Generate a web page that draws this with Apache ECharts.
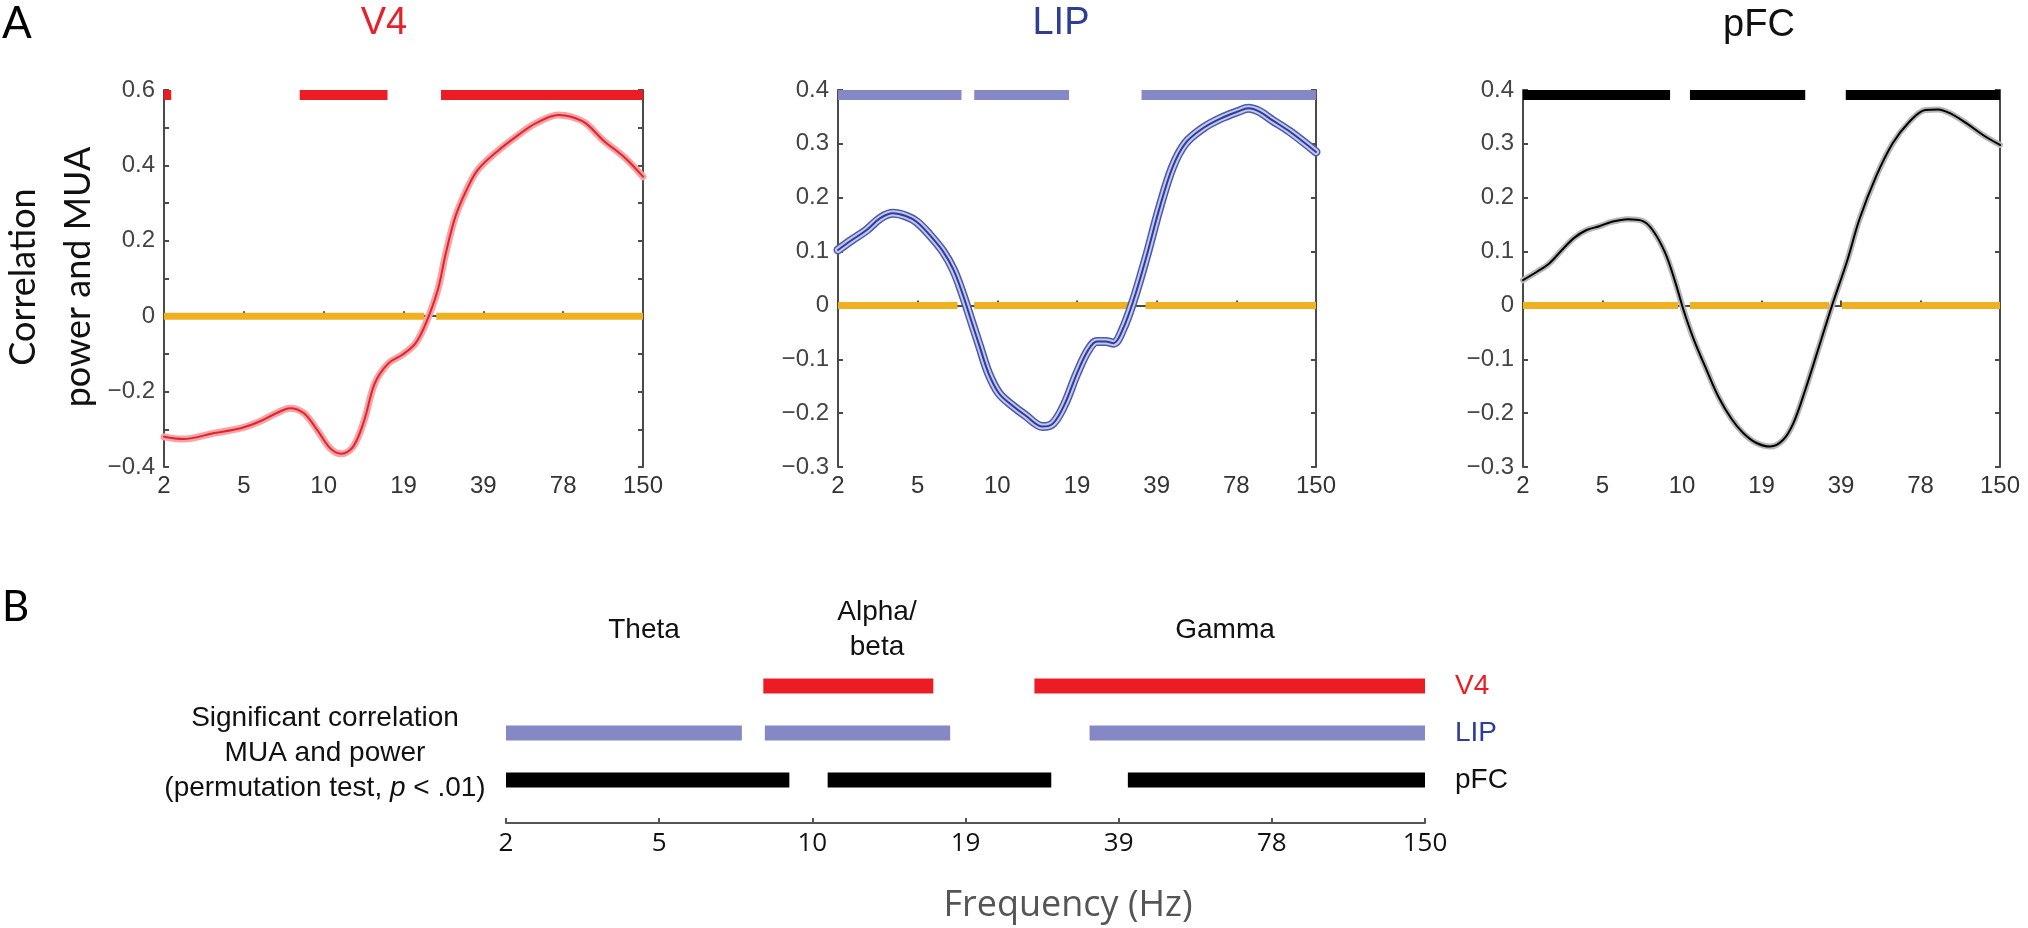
<!DOCTYPE html>
<html>
<head>
<meta charset="utf-8">
<script src="https://cdn.jsdelivr.net/npm/echarts@6/dist/echarts.min.js"></script>
<style>
html,body{margin:0;padding:0;background:#fff;}
#chart{width:2028px;height:928px;}
</style>
</head>
<body>
<div id="chart"></div>
<script>
// ---------- DATA ----------
// frequency tick labels (Hz), placed at equally spaced positions 0..6
const freqTicks = [2, 5, 10, 19, 39, 78, 150];

// V4 correlation curve (x = position on frequency axis, 0..6)
const v4X = [0, 0.24, 0.63, 0.96, 1.19, 1.42, 1.58, 1.75, 1.92, 2.08, 2.22, 2.37, 2.51, 2.64, 2.81, 2.98, 3.15, 3.28, 3.43, 3.53, 3.65, 3.79, 3.93, 4.15, 4.44, 4.66, 4.94, 5.1, 5.28, 5.5, 5.78, 6.0];
const v4Y = [-0.32, -0.326, -0.31, -0.297, -0.28, -0.256, -0.244, -0.257, -0.302, -0.35, -0.365, -0.346, -0.275, -0.178, -0.125, -0.103, -0.072, -0.019, 0.07, 0.167, 0.264, 0.335, 0.388, 0.433, 0.481, 0.512, 0.534, 0.529, 0.512, 0.467, 0.419, 0.37];

// LIP correlation curve
const lipX = [0, 0.17, 0.36, 0.53, 0.69, 0.85, 0.99, 1.15, 1.32, 1.45, 1.56, 1.67, 1.78, 1.89, 2.02, 2.18, 2.35, 2.57, 2.70, 2.84, 3.0, 3.14, 3.25, 3.36, 3.46, 3.57, 3.71, 3.87, 4.04, 4.20, 4.36, 4.58, 4.80, 5.02, 5.15, 5.29, 5.45, 5.67, 6.0];
const lipY = [0.103, 0.121, 0.14, 0.162, 0.171, 0.166, 0.155, 0.131, 0.1, 0.066, 0.023, -0.027, -0.077, -0.126, -0.163, -0.185, -0.204, -0.225, -0.219, -0.185, -0.126, -0.083, -0.067, -0.067, -0.07, -0.046, 0.01, 0.09, 0.183, 0.257, 0.301, 0.329, 0.347, 0.36, 0.366, 0.36, 0.344, 0.323, 0.285];

// pFC correlation curve
const pfcX = [0, 0.18, 0.33, 0.49, 0.64, 0.80, 0.96, 1.11, 1.32, 1.50, 1.63, 1.79, 1.92, 2.02, 2.15, 2.31, 2.46, 2.62, 2.77, 2.93, 3.11, 3.27, 3.40, 3.55, 3.71, 3.89, 4.08, 4.23, 4.44, 4.65, 4.86, 5.06, 5.22, 5.37, 5.58, 5.79, 6.0];
const pfcY = [0.047, 0.063, 0.078, 0.103, 0.125, 0.14, 0.147, 0.155, 0.16, 0.157, 0.14, 0.097, 0.041, -0.009, -0.064, -0.12, -0.17, -0.21, -0.237, -0.255, -0.262, -0.25, -0.219, -0.157, -0.083, 0.001, 0.084, 0.159, 0.239, 0.301, 0.341, 0.363, 0.364, 0.357, 0.338, 0.316, 0.298];

// significant ranges (start, end positions on frequency axis) - panel A
const v4Sig = [[0, 0.09], [1.70, 2.80], [3.47, 6.0]];
const lipSig = [[0, 1.55], [1.71, 2.90], [3.81, 6.0]];
const pfcSig = [[0, 1.85], [2.10, 3.55], [4.06, 6.0]];

// zero-line segments (yellow)
const v4Zero = [[0, 3.26], [3.41, 6.0]];
const lipZero = [[0, 1.50], [1.71, 3.64], [3.86, 6.0]];
const pfcZero = [[0, 1.95], [2.10, 3.85], [4.01, 6.0]];

// panel B significant ranges
const bRows = ['pFC', 'LIP', 'V4'];
const bV4 = [[1.68, 2.79], [3.45, 6.0]];
const bLIP = [[0, 1.54], [1.69, 2.90], [3.81, 6.0]];
const bPFC = [[0, 1.85], [2.10, 3.56], [4.06, 6.0]];

// y ranges
const v4Range = [-0.4, 0.6];
const lipRange = [-0.3, 0.4];
const pfcRange = [-0.3, 0.4];

// ---------- STYLE ----------
const RED = '#EC1C24';
const LIPBAR = '#8488C4';
const LIPTXT = '#2E3D96';
const YELLOW = '#EFB11F';
const AXC = '#4a4a4a';

const chart = echarts.init(document.getElementById('chart'), null, {renderer: 'canvas'});

function fmtY(v, every2) {
  const r = Math.round(v * 10);
  if (every2 && r % 2 !== 0) return '';
  if (r === 0) return '0';
  return (r < 0 ? '\u2212' : '') + (Math.abs(r) / 10).toString();
}

const grids = [
  {left: 164, top: 90, width: 479, height: 377},
  {left: 838, top: 90, width: 478, height: 377},
  {left: 1523, top: 90, width: 477, height: 377},
  {left: 506, top: 662.5, width: 919, height: 141}
];

const xAxes = [];
const yAxes = [];
const ranges = [v4Range, lipRange, pfcRange];
for (let g = 0; g < 3; g++) {
  xAxes.push({
    type: 'value', gridIndex: g, min: 0, max: 6, interval: 1,
    axisLine: {show: true, lineStyle: {color: AXC, width: 2}},
    axisTick: {show: true, inside: true, length: 5, lineStyle: {color: AXC, width: 2}},
    splitLine: {show: false},
    axisLabel: {
      margin: 7, color: '#333', fontSize: 24, fontFamily: 'Liberation Sans',
      formatter: v => String(freqTicks[Math.round(v)])
    }
  });
  const every2 = g === 0;
  yAxes.push({
    type: 'value', gridIndex: g, min: ranges[g][0], max: ranges[g][1], interval: 0.1,
    position: 'left',
    axisLine: {show: true, onZero: false, lineStyle: {color: AXC, width: 2}},
    axisTick: {show: true, inside: true, length: 5, lineStyle: {color: AXC, width: 2}},
    splitLine: {show: false},
    axisLabel: {
      margin: 9, color: '#444', fontSize: 24, fontFamily: 'Liberation Sans',
      formatter: v => fmtY(v, every2)
    }
  });
  yAxes.push({
    type: 'value', gridIndex: g, min: ranges[g][0], max: ranges[g][1], interval: 0.1,
    position: 'right',
    axisLine: {show: true, onZero: false, lineStyle: {color: AXC, width: 2}},
    axisTick: {show: true, inside: true, length: 5, lineStyle: {color: AXC, width: 2}},
    splitLine: {show: false},
    axisLabel: {show: false}
  });
}
// panel B axes
xAxes.push({
  type: 'value', gridIndex: 3, min: 0, max: 6, interval: 1, offset: 19.5,
  axisLine: {show: true, lineStyle: {color: '#555', width: 2}},
  axisTick: {show: true, inside: true, length: 5, lineStyle: {color: '#555', width: 2}},
  splitLine: {show: false},
  axisLabel: {
    margin: 8, color: '#111', fontSize: 26, fontFamily: 'Open Sans',
    formatter: v => String(freqTicks[Math.round(v)])
  }
});
yAxes.push({
  type: 'category', gridIndex: 3, data: bRows, position: 'right',
  axisLine: {show: false}, axisTick: {show: false}, splitLine: {show: false},
  axisLabel: {
    margin: 30, fontSize: 28, fontFamily: 'Liberation Sans', align: 'left',
    formatter: v => '{' + v + '|' + v + '}',
    rich: {
      V4: {color: RED, fontSize: 28, fontFamily: 'Liberation Sans'},
      LIP: {color: LIPTXT, fontSize: 28, fontFamily: 'Liberation Sans'},
      pFC: {color: '#111', fontSize: 28, fontFamily: 'Liberation Sans'}
    }
  }
});

function segSeries(g, segs, yVal, thick, color, alignTop) {
  return {
    type: 'custom', xAxisIndex: g, yAxisIndex: 2 * g, z: 3,
    data: segs.map(s => [s[0], s[1], yVal]),
    renderItem: (params, api) => {
      const p0 = api.coord([api.value(0), api.value(2)]);
      const p1 = api.coord([api.value(1), api.value(2)]);
      const y = alignTop ? p0[1] : p0[1] - thick / 2;
      return {type: 'rect', shape: {x: p0[0], y: y, width: p1[0] - p0[0], height: thick},
              style: {fill: color}};
    },
    silent: true
  };
}
function zip(xs, ys) { return xs.map((x, i) => [x, ys[i]]); }
function curve(g, xs, ys, layers) {
  return layers.map((l, k) => ({
    type: 'line', xAxisIndex: g, yAxisIndex: 2 * g, data: zip(xs, ys),
    smooth: 0.35, showSymbol: false, symbol: 'none', z: 4 + k, silent: true,
    lineStyle: {color: l[0], width: l[1], cap: 'round', join: 'round'}
  }));
}

const series = [];
series.push(segSeries(0, v4Sig, v4Range[1], 10, RED, true));
series.push(segSeries(1, lipSig, lipRange[1], 10, LIPBAR, true));
series.push(segSeries(2, pfcSig, pfcRange[1], 10, '#000', true));
series.push(segSeries(0, v4Zero, 0, 7, YELLOW, false));
series.push(segSeries(1, lipZero, 0, 7, YELLOW, false));
series.push(segSeries(2, pfcZero, 0, 7, YELLOW, false));
series.push(...curve(0, v4X, v4Y, [['#F4A3A6', 7], ['#E3222B', 2]]));
series.push(...curve(1, lipX, lipY, [['#4B5AAE', 9], ['#C3C7EC', 6], ['#2E3D96', 2]]));
series.push(...curve(2, pfcX, pfcY, [['#B5B5B5', 6], ['#000', 2]]));

function bSeries(segs, row, color) {
  return {
    type: 'custom', xAxisIndex: 3, yAxisIndex: 6, z: 3, silent: true,
    data: segs.map(s => [s[0], s[1], row]),
    renderItem: (params, api) => {
      const p0 = api.coord([api.value(0), api.value(2)]);
      const p1 = api.coord([api.value(1), api.value(2)]);
      const t = 15;
      return {type: 'rect', shape: {x: p0[0], y: p0[1] - t / 2, width: p1[0] - p0[0], height: t},
              style: {fill: color}};
    }
  };
}
series.push(bSeries(bV4, 2, RED));
series.push(bSeries(bLIP, 1, LIPBAR));
series.push(bSeries(bPFC, 0, '#000'));

function txt(x, y, text, font, color, align, extra) {
  return {
    type: 'text', x: x, y: y,
    style: Object.assign({text: text, font: font, fill: color, align: align || 'center', verticalAlign: 'middle'}, extra || {})
  };
}

const graphics = [
  txt(2, 24, 'A', '44px Lato', '#000', 'left'),
  txt(2, 607, 'B', '42px Lato', '#000', 'left'),
  txt(384, 24, 'V4', '38px "Liberation Sans"', '#E8202A'),
  txt(1061, 24, 'LIP', '38px "Liberation Sans"', LIPTXT),
  txt(1759, 26, 'pFC', '38px "Liberation Sans"', '#111'),
  {
    type: 'text', x: 51, y: 277, rotation: Math.PI / 2,
    style: {text: 'Correlation\npower and MUA', font: '36px Lato', fill: '#111',
            align: 'center', verticalAlign: 'middle', lineHeight: 55}
  },
  txt(644, 630, 'Theta', '28px "Liberation Sans"', '#111'),
  txt(877, 630, 'Alpha/\nbeta', '28px "Liberation Sans"', '#111', 'center', {lineHeight: 35}),
  txt(1225, 630, 'Gamma', '28px "Liberation Sans"', '#111'),
  txt(325, 718, 'Significant correlation', '28px "Liberation Sans"', '#111'),
  txt(325, 753, 'MUA and power', '28px "Liberation Sans"', '#111'),
  {
    type: 'text', x: 325, y: 788,
    style: {
      text: '(permutation test, {i|p} < .01)', font: '28px "Liberation Sans"', fill: '#111',
      align: 'center', verticalAlign: 'middle',
      rich: {i: {font: 'italic 28px "Liberation Sans"', fill: '#111'}}
    }
  },
  txt(1068, 906, 'Frequency (Hz)', '36px "Open Sans"', '#555')
];

chart.setOption({
  animation: false,
  backgroundColor: '#fff',
  grid: grids,
  xAxis: xAxes,
  yAxis: yAxes,
  series: series,
  graphic: {elements: graphics}
});
</script>
</body>
</html>
